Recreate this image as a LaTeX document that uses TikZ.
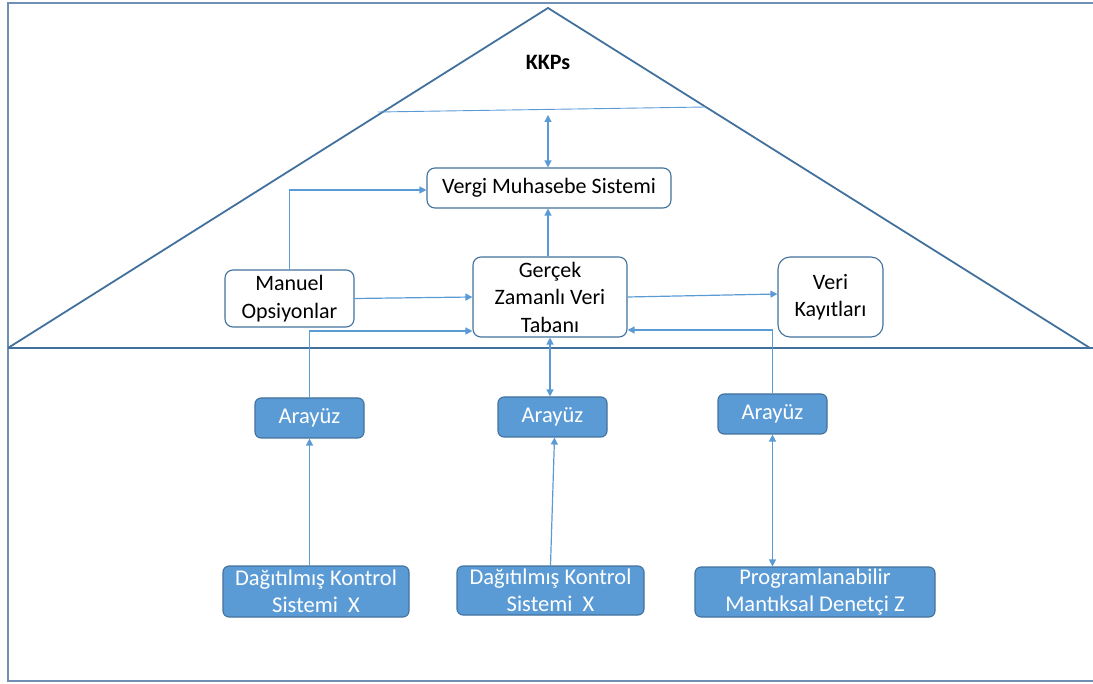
\documentclass[tikz,border=0pt]{standalone}
\usepackage{fontspec}
\setmainfont{Carlito}
\usetikzlibrary{arrows.meta}
\definecolor{frameblue}{HTML}{6F8FB5}
\definecolor{roofblue}{HTML}{41719C}
\definecolor{linkblue}{HTML}{5B9BD5}
\definecolor{boxfill}{HTML}{5B9BD5}
\tikzset{
  wbox/.style={draw=roofblue, line width=1.1pt, fill=white, rounded corners=8pt,
    align=center, inner sep=0pt, font=\fontsize{22}{27.5}\selectfont},
  bbox/.style={draw=roofblue, line width=1.1pt, fill=boxfill, rounded corners=6pt,
    align=center, inner sep=0pt, text=white, font=\fontsize{22.5}{27}\selectfont},
  link/.style={draw=linkblue, line width=1.2pt, -{Triangle[width=7pt,length=7pt]}},
  biLink/.style={draw=linkblue, line width=1.2pt, {Triangle[width=7pt,length=7pt]}-{Triangle[width=7pt,length=7pt]}},
}
\begin{document}
\begin{tikzpicture}[x=1pt,y=-1pt]
\useasboundingbox (0,0) rectangle (1093,684);
% outer frame (open on the right)
\draw[frameblue, line width=1.6pt] (1093,3) -- (8,3) -- (8,681) -- (1093,681);
% roof and floor line
\draw[roofblue, line width=1.8pt, line join=miter] (8,348) -- (548,8) -- (1090,348);
\draw[roofblue, line width=1.8pt] (8,348) -- (1093,348);
% thin line under the label
\coordinate (lineL) at (378,112);
\coordinate (lineR) at (706,107);
\draw[linkblue, line width=0.9pt] (lineL) -- (lineR);
\node[font=\fontsize{22}{26}\selectfont\bfseries] (kkps) at (548,62) {KKPs};

% boxes inside the roof
\node[wbox, minimum width=244pt, minimum height=40pt] (vergi) at (549,188) {Vergi Muhasebe Sistemi};
\node[wbox, minimum width=129pt, minimum height=57pt] (manuel) at (289.5,298.5) {Manuel\\Opsiyonlar};
\node[wbox, minimum width=154pt, minimum height=80pt] (gercek) at (550,297) {Gerçek\\Zamanlı Veri\\Tabanı};
\node[wbox, rounded corners=12pt, minimum width=105pt, minimum height=80pt] (veri) at (830.5,297) {Veri\\Kayıtları};

% interface boxes
\node[bbox, minimum width=109pt, minimum height=40pt] (ara1) at (309.5,418) {Arayüz};
\node[bbox, minimum width=109pt, minimum height=40pt] (ara2) at (552.5,417) {Arayüz};
\node[bbox, minimum width=109pt, minimum height=40pt] (ara3) at (772.5,414) {Arayüz};

% field devices
\node[bbox, minimum width=186pt, minimum height=51pt] (dks1) at (316,591.5) {Dağıtılmış Kontrol\\Sistemi\ \ X};
\node[bbox, minimum width=187pt, minimum height=49pt] (dks2) at (550.5,590.5) {Dağıtılmış Kontrol\\Sistemi\ \ X};
\node[bbox, minimum width=240pt, minimum height=50pt] (plc) at (815,592) {Programlanabilir\\Mantıksal Denetçi Z};

% connectors
\coordinate (kkpArrow) at (548,115);
\draw[biLink] (kkpArrow) -- (kkpArrow |- vergi.north);
\draw[link] (gercek.north -| kkpArrow) -- (kkpArrow |- vergi.south);
\draw[link] (manuel.north) |- ([yshift=-2pt]vergi.west);
\draw[link] (manuel.east) -- (gercek.west);
\draw[link] (gercek.east) -- ([yshift=3pt]veri.west);
\draw[link] (ara1.north) |- ([yshift=-34pt]gercek.west);
\draw[link] (ara3.north) |- ([yshift=-33pt]gercek.east);
\draw[biLink] (ara2.north -| gercek.south) -- (gercek.south);
\draw[link] (ara1.south |- dks1.north) -- (ara1.south);
\draw[link] (dks2.north) -- ([xshift=2pt]ara2.south);
\draw[biLink] (ara3.south |- plc.north) -- (ara3.south);
\end{tikzpicture}
\end{document}
